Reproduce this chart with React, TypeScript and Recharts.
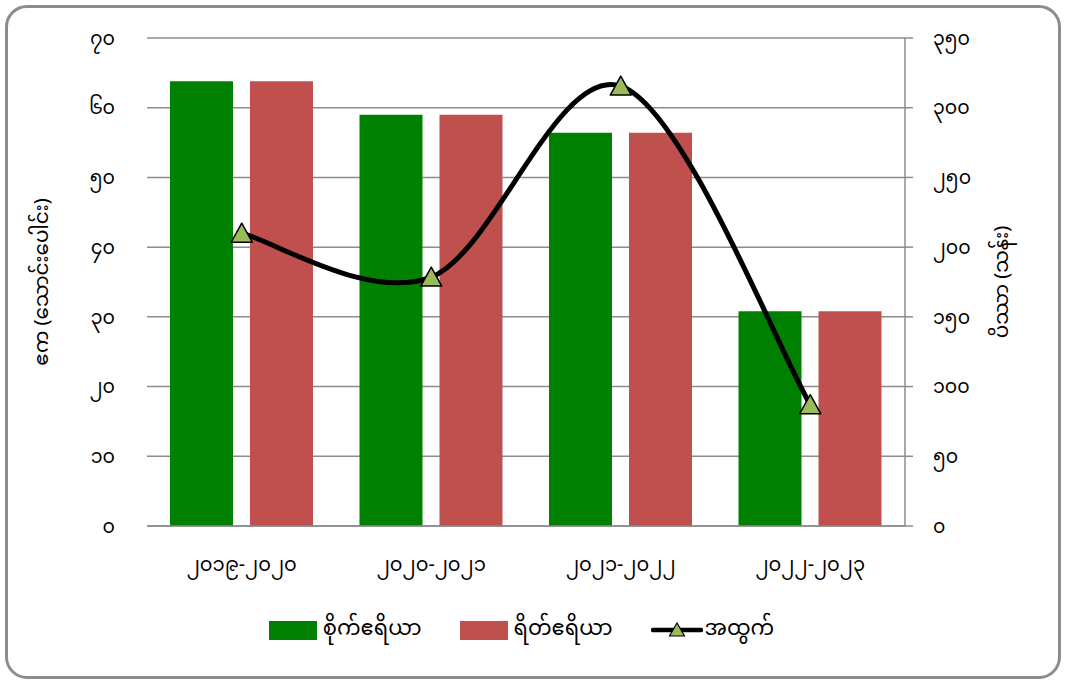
import {
  ComposedChart,
  Bar,
  Line,
  XAxis,
  YAxis,
  CartesianGrid,
  Legend,
} from 'recharts';

const CATEGORIES = ['၂၀၁၉-၂၀၂၀', '၂၀၂၀-၂၀၂၁', '၂၀၂၁-၂၀၂၂', '၂၀၂၂-၂၀၂၃'];
const PLANTED = [63.8, 59.0, 56.4, 30.8]; // စိုက်ဧရိယာ (ဧက သောင်းပေါင်း)
const HARVESTED = [63.8, 59.0, 56.4, 30.8]; // ရိတ်ဧရိယာ
const YIELD = [210, 178.5, 315.5, 87]; // အထွက် (ပိဿာ သန်း)

const LEFT_TICKS = [0, 10, 20, 30, 40, 50, 60, 70];
const LEFT_TICK_LABELS = ['၀', '၁၀', '၂၀', '၃၀', '၄၀', '၅၀', '၆၀', '၇၀'];
const RIGHT_TICKS = [0, 50, 100, 150, 200, 250, 300, 350];
const RIGHT_TICK_LABELS = ['၀', '၅၀', '၁၀၀', '၁၅၀', '၂၀၀', '၂၅၀', '၃၀၀', '၃၅၀'];

const SERIES_NAMES = ['စိုက်ဧရိယာ', 'ရိတ်ဧရိယာ', 'အထွက်'];
const LEFT_TITLE = 'ဧက (သောင်းပေါင်း)';
const RIGHT_TITLE = 'ပိဿာ (သန်း)';

const GREEN = '#008000';
const RED = '#c0504d';
const TRI = '#9bbb59';
const GRID = '#8c8c8c';
const FONT = "'Noto Sans Myanmar', 'Myanmar Text', Padauk, 'Noto Sans', sans-serif";

const data = CATEGORIES.map((period, i) => ({
  period,
  planted: PLANTED[i],
  harvested: HARVESTED[i],
  yield: YIELD[i],
}));

// excel-style smoothed line (catmull-rom through the points)
function smoothCurve(context: any) {
  let pts: number[][] = [];
  return {
    areaStart() {},
    areaEnd() {},
    lineStart() {
      pts = [];
    },
    point(x: number, y: number) {
      pts.push([+x, +y]);
    },
    lineEnd() {
      if (!pts.length) return;
      context.moveTo(pts[0][0], pts[0][1]);
      for (let i = 0; i < pts.length - 1; i++) {
        const p0 = pts[Math.max(i - 1, 0)];
        const p1 = pts[i];
        const p2 = pts[i + 1];
        const p3 = pts[Math.min(i + 2, pts.length - 1)];
        context.bezierCurveTo(
          p1[0] + (p2[0] - p0[0]) / 6,
          p1[1] + (p2[1] - p0[1]) / 6,
          p2[0] - (p3[0] - p1[0]) / 6,
          p2[1] - (p3[1] - p1[1]) / 6,
          p2[0],
          p2[1],
        );
      }
    },
  };
}

function TriangleDot(props: any) {
  const { cx, cy, index } = props;
  if (cx == null || cy == null) return <g key={index} />;
  return (
    <polygon
      key={index}
      points={`${cx},${cy - 10} ${cx - 10.5},${cy + 9} ${cx + 10.5},${cy + 9}`}
      fill={TRI}
      stroke="#000"
      strokeWidth={1.5}
      strokeLinejoin="round"
    />
  );
}

function ChartLegend() {
  const text = { fontSize: 21, color: '#000', marginLeft: 6 };
  return (
    <div
      style={{
        height: 40,
        display: 'flex',
        alignItems: 'center',
        justifyContent: 'center',
        fontFamily: FONT,
      }}
    >
      <div style={{ display: 'flex', alignItems: 'center', marginRight: 38 }}>
        <span style={{ width: 48, height: 19, background: GREEN, display: 'inline-block' }} />
        <span style={text}>{SERIES_NAMES[0]}</span>
      </div>
      <div style={{ display: 'flex', alignItems: 'center', marginRight: 38 }}>
        <span style={{ width: 48, height: 19, background: RED, display: 'inline-block' }} />
        <span style={text}>{SERIES_NAMES[1]}</span>
      </div>
      <div style={{ display: 'flex', alignItems: 'center' }}>
        <svg width={52} height={20}>
          <line x1={2} y1={10} x2={50} y2={10} stroke="#000" strokeWidth={4.5} strokeLinecap="round" />
          <polygon points="26,3 18.5,16 33.5,16" fill={TRI} stroke="#000" strokeWidth={1.2} />
        </svg>
        <span style={{ ...text, marginLeft: 2 }}>{SERIES_NAMES[2]}</span>
      </div>
    </div>
  );
}

export default function App() {
  const tickStyle = { fontSize: 19, fill: '#000', fontFamily: FONT };
  return (
    <div
      style={{
        position: 'absolute',
        left: 5,
        top: 5,
        width: 1056,
        height: 674,
        border: '3px solid #8c8c8c',
        borderRadius: 22,
        boxSizing: 'border-box',
        background: '#fff',
      }}
    >
      <ComposedChart
        width={1050}
        height={668}
        data={data}
        margin={{ top: 30, right: 33, bottom: 26, left: 10 }}
        barCategoryGap={23}
        barGap={17}
      >
        <CartesianGrid vertical={false} stroke={GRID} strokeWidth={1.5} yAxisId="left" />
        <XAxis
          dataKey="period"
          height={84}
          tick={{ ...tickStyle, fontSize: 19.5 }}
          tickLine={false}
          tickSize={0}
          tickMargin={31}
          axisLine={{ stroke: GRID, strokeWidth: 1.5 }}
        />
        <YAxis
          yAxisId="left"
          width={129}
          domain={[0, 70]}
          ticks={LEFT_TICKS}
          tickFormatter={(v: number) => LEFT_TICK_LABELS[LEFT_TICKS.indexOf(v)]}
          tick={tickStyle}
          axisLine={false}
          tickLine={false}
          tickSize={0}
          tickMargin={32}
          label={{
            value: LEFT_TITLE,
            angle: -90,
            position: 'center',
            dx: -42,
            style: { fontSize: 20, fill: '#000', fontFamily: FONT },
          }}
        />
        <YAxis
          yAxisId="right"
          orientation="right"
          width={120}
          domain={[0, 350]}
          ticks={RIGHT_TICKS}
          tickFormatter={(v: number) => RIGHT_TICK_LABELS[RIGHT_TICKS.indexOf(v)]}
          tick={{ ...tickStyle, textAnchor: 'start' }}
          axisLine={{ stroke: GRID, strokeWidth: 1.5 }}
          tickLine={{ stroke: GRID, strokeWidth: 1.5 }}
          tickSize={8}
          tickMargin={20}
          label={{
            value: RIGHT_TITLE,
            angle: -90,
            position: 'center',
            dx: 36,
            style: { fontSize: 20, fill: '#000', fontFamily: FONT },
          }}
        />
        <Legend verticalAlign="bottom" content={<ChartLegend />} />
        <Bar yAxisId="left" dataKey="planted" name={SERIES_NAMES[0]} fill={GREEN} isAnimationActive={false} />
        <Bar yAxisId="left" dataKey="harvested" name={SERIES_NAMES[1]} fill={RED} isAnimationActive={false} />
        <Line
          yAxisId="right"
          dataKey="yield"
          name={SERIES_NAMES[2]}
          type={smoothCurve as any}
          stroke="#000"
          strokeWidth={5}
          dot={TriangleDot}
          activeDot={false}
          isAnimationActive={false}
        />
      </ComposedChart>
    </div>
  );
}
